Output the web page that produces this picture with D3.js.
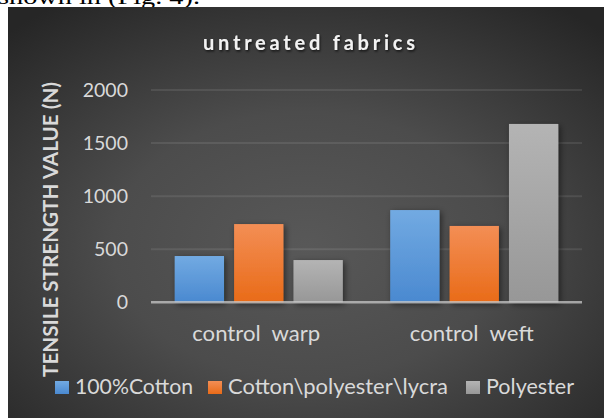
<!DOCTYPE html>
<html><head><meta charset="utf-8">
<script src="https://cdn.jsdelivr.net/npm/d3@7"></script>
<style>html,body{margin:0;padding:0;background:#fff;}svg{display:block;}</style>
</head><body>
<script>
const categories = ["control  warp", "control  weft"];
const seriesNames = ["100%Cotton", "Cotton\\polyester\\lycra", "Polyester"];
const cottonValues = [436, 869];
const blendValues = [737, 719];
const polyesterValues = [398, 1680];
const yTicks = [0, 500, 1000, 1500, 2000];
const titleText = "untreated fabrics";
const yTitleText = "TENSILE STRENGTH VALUE (N)";
const captionText = "shown in (Fig. 4).";

const seriesValues = [cottonValues, blendValues, polyesterValues];
const colors = [["#72aae2","#4a89d0"],["#f38e55","#e96b18"],["#b4b4b4","#979797"]];

const W = 604, H = 418;
const svg = d3.select("body").append("svg").attr("width", W).attr("height", H);
const defs = svg.append("defs");

const bg = defs.append("radialGradient").attr("id","bg").attr("cx","0.5").attr("cy","0.58").attr("r","0.72");
bg.append("stop").attr("offset","0").attr("stop-color","#585858");
bg.append("stop").attr("offset","0.45").attr("stop-color","#4c4c4c");
bg.append("stop").attr("offset","1").attr("stop-color","#262626");

colors.forEach((c,i)=>{
  const g = defs.append("linearGradient").attr("id","bar"+i).attr("x1",0).attr("y1",0).attr("x2",0).attr("y2",1);
  g.append("stop").attr("offset",0).attr("stop-color",c[0]);
  g.append("stop").attr("offset",1).attr("stop-color",c[1]);
});
const sh = defs.append("filter").attr("id","sh").attr("x","-30%").attr("y","-30%").attr("width","160%").attr("height","160%");
sh.append("feDropShadow").attr("dx",2).attr("dy",2).attr("stdDeviation",3).attr("flood-color","#000").attr("flood-opacity",0.5);
const tsh = defs.append("filter").attr("id","tsh").attr("x","-10%").attr("y","-30%").attr("width","120%").attr("height","160%");
tsh.append("feDropShadow").attr("dx",1).attr("dy",1.5).attr("stdDeviation",1.2).attr("flood-color","#000").attr("flood-opacity",0.7);

// caption text above chart (cropped in the reference)
svg.append("text").attr("x",-2).attr("y",4).attr("font-family","Liberation Serif, serif")
  .attr("font-size",21).attr("fill","#000").attr("textLength",202).attr("lengthAdjust","spacingAndGlyphs").text(captionText);

svg.append("rect").attr("x",8).attr("y",7).attr("width",W-8).attr("height",H-7).attr("fill","url(#bg)");

const x0 = d3.scaleBand().domain(categories).range([151, 582]).paddingInner(0.22).paddingOuter(0.11);
const x1 = d3.scaleBand().domain(seriesNames).range([0, x0.bandwidth()]).paddingInner(0.17).paddingOuter(0);
const y = d3.scaleLinear().domain([0, 2000]).range([302.3, 90]);

// gridlines
svg.append("g").selectAll("line").data(yTicks.filter(d=>d>0)).join("line")
  .attr("x1",151).attr("x2",582).attr("y1",d=>y(d)).attr("y2",d=>y(d))
  .attr("stroke","#ffffff").attr("stroke-opacity",0.09).attr("stroke-width",2);

// y axis labels
const yAxis = svg.append("g").attr("transform","translate(151,0)")
  .call(d3.axisLeft(y).tickValues(yTicks).tickSize(0).tickPadding(23).tickFormat(d3.format("d")));
yAxis.select(".domain").remove();
yAxis.selectAll("text").attr("font-family","Lato, sans-serif").attr("font-size",19.5).attr("fill","#d9d9d9");

// bars
const groups = svg.append("g").selectAll("g").data(categories).join("g")
  .attr("transform", d=>`translate(${x0(d)},0)`);
groups.selectAll("rect").data((d,ci)=>seriesNames.map((s,si)=>({s, si, v: seriesValues[si][ci]}))).join("rect")
  .attr("x", d=>x1(d.s)).attr("width", x1.bandwidth())
  .attr("y", d=>y(d.v)).attr("height", d=>y(0)-y(d.v))
  .attr("fill", d=>`url(#bar${d.si})`).attr("filter","url(#sh)");

// baseline
svg.append("line").attr("x1",151).attr("x2",582).attr("y1",y(0)).attr("y2",y(0))
  .attr("stroke","#c8c8c8").attr("stroke-opacity",0.75).attr("stroke-width",2.5);

// x labels
const xlw = [128, 124];
svg.append("g").selectAll("text").data(categories).join("text")
  .attr("x", d=>x0(d)+x0.bandwidth()/2-2.5).attr("y",341).attr("text-anchor","middle")
  .attr("font-family","Lato, sans-serif").attr("font-size",21).attr("fill","#d9d9d9")
  .attr("textLength",(d,i)=>xlw[i]).attr("lengthAdjust","spacingAndGlyphs")
  .style("white-space","pre").text(d=>d);

// title
svg.append("text").attr("x",309).attr("y",50).attr("text-anchor","middle")
  .attr("font-family","Lato, sans-serif").attr("font-weight","bold").attr("font-size",20)
  .attr("fill","#f2f2f2").attr("textLength",212).attr("lengthAdjust","spacing")
  .attr("filter","url(#tsh)").text(titleText);

// y title
svg.append("text").attr("transform","translate(58,229.5) rotate(-90)").attr("text-anchor","middle")
  .attr("font-family","Lato, sans-serif").attr("font-weight","bold").attr("font-size",21)
  .attr("fill","#d9d9d9").attr("textLength",295).attr("lengthAdjust","spacingAndGlyphs").text(yTitleText);

// legend
const legX = [55, 208, 466];
const legW = [118, 220, 88];
const leg = svg.append("g").selectAll("g").data(seriesNames).join("g");
leg.append("rect").attr("x",(d,i)=>legX[i]).attr("y",381).attr("width",14).attr("height",13)
  .attr("fill",(d,i)=>`url(#bar${i})`);
leg.append("text").attr("x",(d,i)=>legX[i]+20).attr("y",393.5)
  .attr("font-family","Lato, sans-serif").attr("font-size",20.5).attr("fill","#d9d9d9")
  .attr("textLength",(d,i)=>legW[i]).attr("lengthAdjust","spacingAndGlyphs").text(d=>d);
</script>
</body></html>
